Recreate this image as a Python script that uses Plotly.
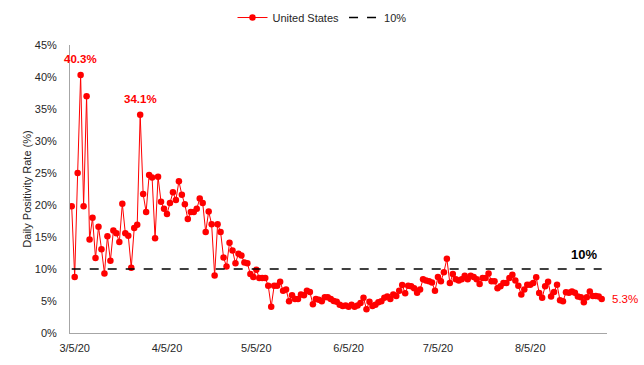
import pandas as pd
import plotly.graph_objects as go

start_date = "2020-03-04"
us_rate = [
    19.8, 8.75, 25.0, 40.3, 19.8, 37.0, 14.6, 18.0, 11.7, 16.6, 13.1, 9.3, 15.1, 11.3, 16.0, 15.6,
    14.2, 20.2, 15.6, 15.2, 10.2, 16.4, 16.9, 34.1, 21.7, 18.9, 24.7, 24.3, 14.8, 24.4, 20.5, 19.4,
    18.6, 20.3, 22.0, 20.8, 23.7,
    21.6, 20.1, 17.8, 18.9, 18.9, 19.4, 21.0, 20.3, 15.8, 19.0, 17.0, 9.0, 17.0, 15.8, 11.8, 10.4,
    14.1, 12.9, 10.9, 12.4, 12.1, 11.0, 10.9, 9.2,
    8.75, 9.9, 8.6, 8.6, 8.6, 7.4, 4.1, 7.4, 7.4, 8.0, 6.6, 6.8, 4.95, 5.9, 5.3, 5.3, 6.0, 5.9,
    6.6, 6.4, 4.5, 5.3, 5.2, 4.95, 5.6, 5.6, 5.3, 5.0,
    4.9, 4.4, 4.2, 4.3, 4.1, 4.4, 4.1, 4.3, 4.7, 5.5, 3.7, 4.9, 4.2, 4.4, 4.8, 4.95, 5.5, 5.7,
    5.3, 6.0, 5.8, 6.6, 7.5, 6.2, 7.4, 7.3, 7.0, 6.3, 6.8, 8.4,
    8.2, 8.1, 7.9, 6.6, 8.75, 8.1, 9.5, 11.6, 7.8, 9.2, 8.4, 8.2, 8.4, 8.95, 8.4, 8.95, 8.75,
    8.4, 7.65, 8.6, 8.6, 9.3, 8.1, 8.1, 7.0, 7.3, 7.8,
    7.8, 8.6, 9.1, 8.2, 7.4, 6.0, 6.8, 7.55, 7.55, 7.8, 8.7, 6.25, 5.5, 7.3, 8.0, 5.7, 6.4, 7.55,
    5.1, 4.95, 6.35, 6.3, 6.5, 6.3, 5.7, 5.6, 4.8, 5.6, 6.5, 5.8, 5.8, 5.7, 5.3,
]
threshold = 10
tick_dates = ["2020-03-05", "2020-04-05", "2020-05-05", "2020-06-05", "2020-07-05", "2020-08-05"]
tick_labels = ["3/5/20", "4/5/20", "5/5/20", "6/5/20", "7/5/20", "8/5/20"]
y_ticks = [0, 5, 10, 15, 20, 25, 30, 35, 40, 45]
y_tick_labels = [f"{v}%" for v in y_ticks]
peak_labels = [(3, "40.3%"), (23, "34.1%")]

dates = pd.date_range(start_date, periods=len(us_rate))
FONT = "Liberation Sans, Arial, sans-serif"
RED = "#FF0000"
TXT = "#262626"

fig = go.Figure()
fig.add_trace(go.Scatter(
    x=dates, y=us_rate, mode="lines+markers", name="United States",
    line=dict(color=RED, width=1),
    marker=dict(color=RED, size=6.5),
))
fig.add_trace(go.Scatter(
    x=dates, y=[threshold] * len(dates), mode="lines", name="10%",
    line=dict(color="black", width=1.3, dash="dash"),
))

for idx, txt in peak_labels:
    fig.add_annotation(x=dates[idx], y=us_rate[idx], text=f"<b>{txt}</b>", showarrow=False,
                       yshift=16, font=dict(family=FONT, size=11.5, color=RED))
fig.add_annotation(x=dates[-1], y=us_rate[-1], text=f"{us_rate[-1]}%", showarrow=False,
                   xanchor="left", xshift=8, font=dict(family=FONT, size=11.5, color=RED))
fig.add_annotation(x=dates[-7], y=threshold, text="<b>10%</b>", showarrow=False,
                   yshift=15, font=dict(family=FONT, size=13, color="black"))

x0 = dates[0] - pd.Timedelta(hours=13.7)
x1 = dates[-1] + pd.Timedelta(hours=42.7)

fig.update_layout(
    width=644, height=365,
    margin=dict(l=70, r=37, t=45, b=32, autoexpand=False),
    paper_bgcolor="white", plot_bgcolor="white",
    font=dict(family=FONT, size=11, color=TXT),
    showlegend=True,
    legend=dict(orientation="h", xref="container", yref="container", x=0.5, y=0.952,
                xanchor="center", yanchor="middle", font=dict(family=FONT, size=11, color=TXT),
                itemwidth=30),
    xaxis=dict(range=[x0, x1], tickvals=list(pd.to_datetime(tick_dates)), ticktext=tick_labels,
               showgrid=False, zeroline=False, showline=True, linecolor="#A6A6A6", linewidth=1,
               ticks="", ticklabelstandoff=5),
    yaxis=dict(range=[0, 45], tickvals=y_ticks, ticktext=y_tick_labels, showgrid=False,
               zeroline=False, showline=True, linecolor="#A6A6A6", linewidth=1, ticks="",
               ticklabelstandoff=10,
               title=dict(text="Daily Positivity Rate (%)", font=dict(family=FONT, size=11, color=TXT),
                          standoff=0)),
)

fig.write_html("out.html", config={"displayModeBar": False},
               post_script="document.body.style.margin='0px';")
